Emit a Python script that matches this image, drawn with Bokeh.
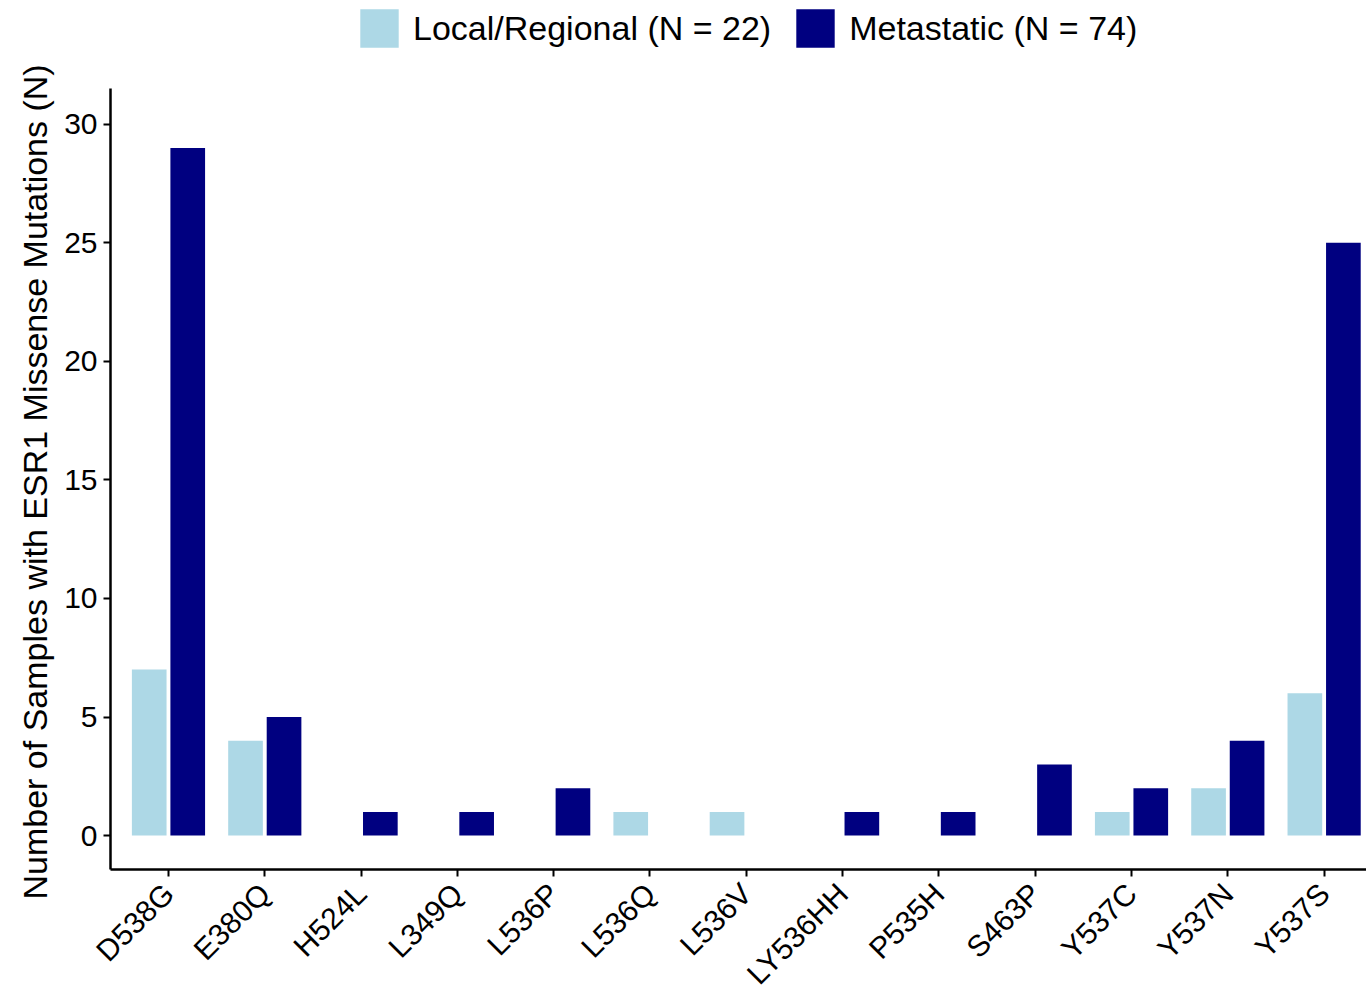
import numpy as np
from bokeh.plotting import figure
from bokeh.models import (Range1d, FixedTicker, Legend, LegendItem, ColumnDataSource,
                          Title)
from bokeh.transform import dodge
from bokeh.embed import file_html
from bokeh.resources import INLINE

# ESR1 missense mutations by sample site
mutations = ["D538G", "E380Q", "H524L", "L349Q", "L536P", "L536Q", "L536V",
             "LY536HH", "P535H", "S463P", "Y537C", "Y537N", "Y537S"]
local_regional = [7, 4, 0, 0, 0, 1, 1, 0, 0, 0, 1, 2, 6]
metastatic = [29, 5, 1, 1, 2, 0, 0, 1, 1, 3, 2, 4, 25]
y_ticks = [0, 5, 10, 15, 20, 25, 30]
series_labels = ["Local/Regional (N = 22)", "Metastatic (N = 74)"]
y_title = "Number of Samples with ESR1 Missense Mutations (N)"

LIGHT = "#ADD8E6"
DARK = "#000080"
FONT = "Liberation Sans"

pos = list(range(1, len(mutations) + 1))
src = ColumnDataSource(dict(pos=pos, local=local_regional, met=metastatic))

# the frame runs to the top edge so the legend can sit above the bars;
# the y axis itself is bounded to the panel below it
Y_LOW, Y_AXIS_TOP, Y_HIGH = -1.43, 31.5, 35.22
p = figure(width=1366, height=1005, output_backend="svg", toolbar_location=None,
           x_range=Range1d(0.398, 13.44), y_range=Range1d(Y_LOW, Y_HIGH),
           min_border_left=110, min_border_right=0,
           min_border_top=0, min_border_bottom=135)
p.background_fill_color = "white"
p.border_fill_color = "white"
p.outline_line_color = None
p.xgrid.grid_line_color = None
p.ygrid.grid_line_color = None

r_local = p.vbar(x=dodge("pos", -0.2, range=p.x_range), top="local", width=0.36,
                 source=src, fill_color=LIGHT, line_color=None)
r_met = p.vbar(x=dodge("pos", 0.2, range=p.x_range), top="met", width=0.36,
               source=src, fill_color=DARK, line_color=None)

# axes
p.xaxis.ticker = FixedTicker(ticks=pos)
p.xaxis.major_label_overrides = {i: m for i, m in zip(pos, mutations)}
p.xaxis.major_label_orientation = np.pi / 4
p.yaxis.ticker = FixedTicker(ticks=y_ticks)
p.yaxis.bounds = (Y_LOW, Y_AXIS_TOP)

for ax in (p.xaxis[0], p.yaxis[0]):
    ax.axis_line_color = "black"
    ax.axis_line_width = 2.5
    ax.major_tick_line_color = "black"
    ax.major_tick_line_width = 2
    ax.major_tick_in = 0
    ax.major_tick_out = 7
    ax.minor_tick_line_color = None
    ax.major_label_text_font = FONT
    ax.major_label_text_font_size = "30px"
    ax.major_label_text_color = "black"
    ax.major_label_standoff = 6
p.xaxis.major_label_standoff = 12

# y title, started just below the x axis line and running upward
p.add_layout(Title(text=y_title, align="left", offset=-30, standoff=16,
                   text_font=FONT, text_font_size="34px", text_font_style="normal",
                   text_color="black"), "left")

legend = Legend(
    items=[LegendItem(label=series_labels[0], renderers=[r_local]),
           LegendItem(label=series_labels[1], renderers=[r_met])],
    orientation="horizontal", location=(245, 817),
    glyph_width=48, glyph_height=48, label_height=38, label_standoff=10, spacing=20,
    padding=0, margin=0, border_line_color=None, background_fill_alpha=0,
    label_text_font=FONT, label_text_font_size="34px", label_text_color="black",
)
p.add_layout(legend)

open("out.html", "w").write(file_html(p, INLINE))
